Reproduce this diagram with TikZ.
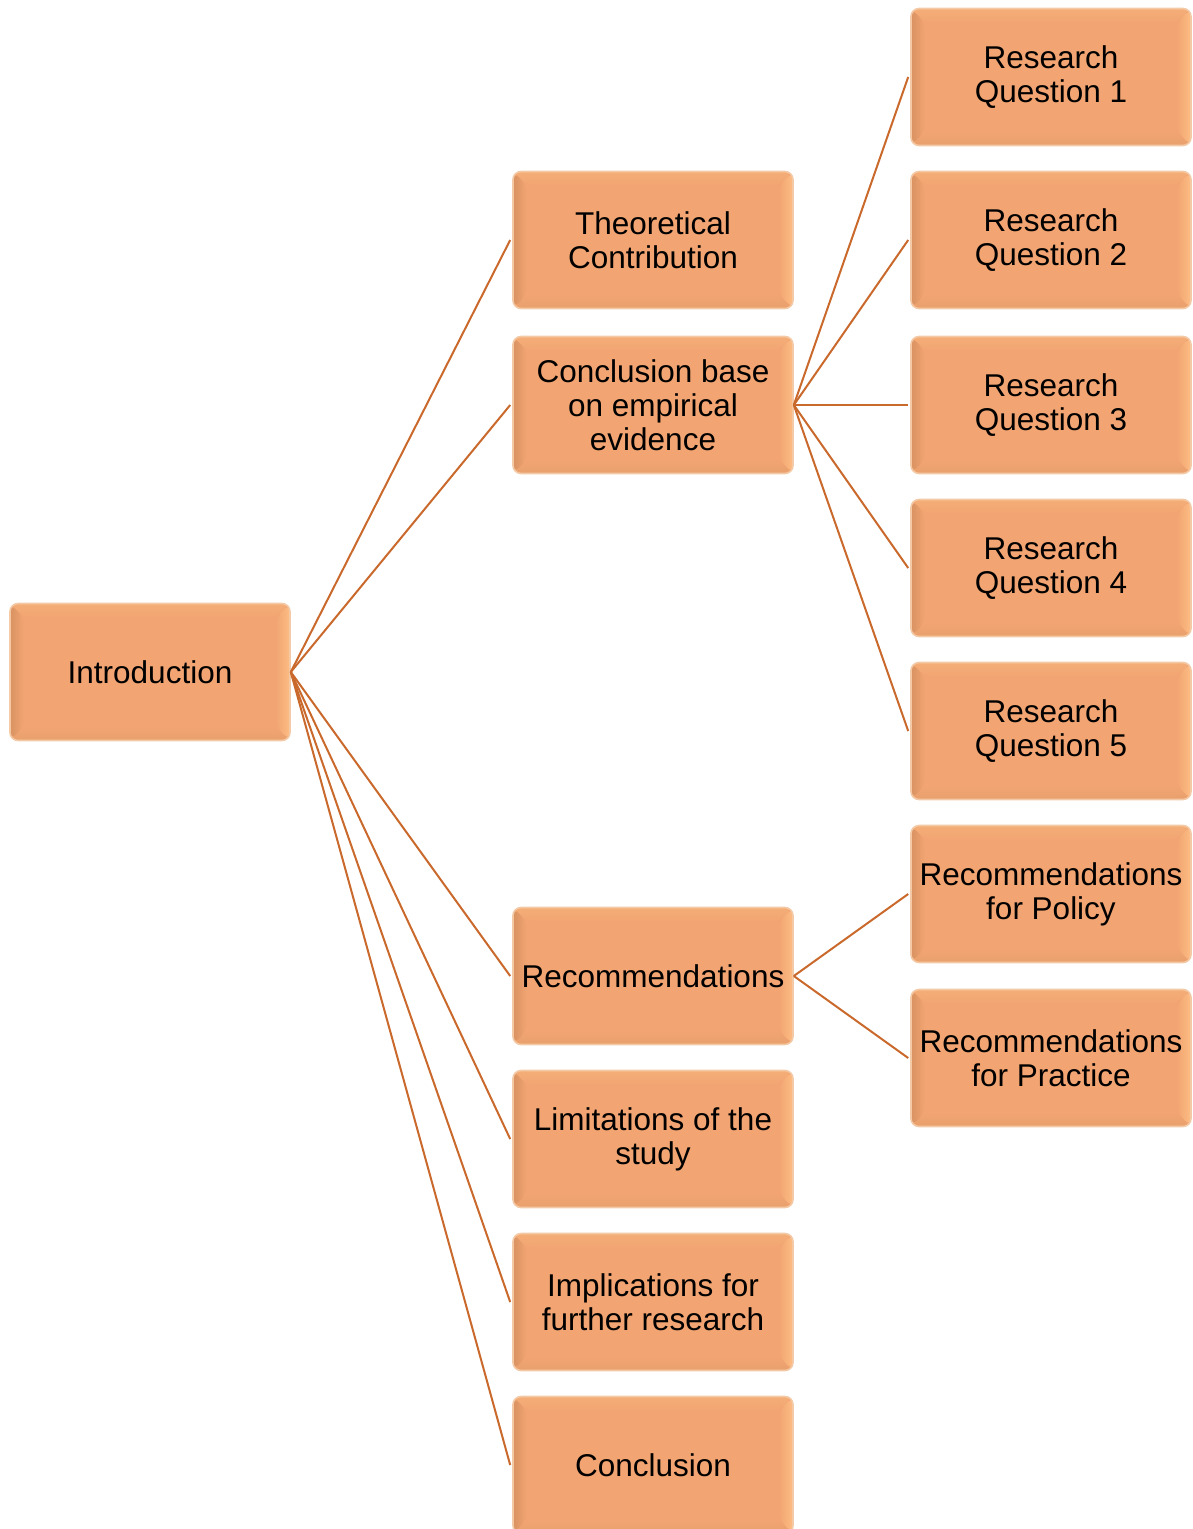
\documentclass[tikz,border=0pt]{standalone}
\usepackage{fontspec}
\setmainfont{Liberation Sans}
\usetikzlibrary{calc}
\definecolor{boxfill}{HTML}{F2A572}
\definecolor{boxtop}{HTML}{F5AE78}
\definecolor{boxleft}{HTML}{D99262}
\definecolor{boxright}{HTML}{FDBD84}
\definecolor{boxbottom}{HTML}{E8A06C}
\definecolor{boxrim}{HTML}{F3C9A6}
\definecolor{linkcol}{HTML}{C9692C}
\tikzset{
  bevelbox/.style={
    rounded corners=8pt, fill=boxfill, draw=boxrim, line width=1.6pt,
    minimum width=280pt, minimum height=137pt, inner sep=0pt,
    align=center, font=\fontsize{31.5}{34}\selectfont, text=black,
    path picture={
      \coordinate (nw) at (path picture bounding box.north west);
      \coordinate (ne) at (path picture bounding box.north east);
      \coordinate (sw) at (path picture bounding box.south west);
      \coordinate (se) at (path picture bounding box.south east);
      \shade[top color=boxtop, bottom color=boxfill] (nw) -- (ne) -- ($(ne)+(-14,14)$) -- ($(nw)+(14,14)$) -- cycle;
      \shade[top color=boxfill, bottom color=boxbottom] (sw) -- (se) -- ($(se)+(-14,-14)$) -- ($(sw)+(14,-14)$) -- cycle;
      \shade[left color=boxleft, right color=boxfill] (nw) -- (sw) -- ($(sw)+(14,-14)$) -- ($(nw)+(14,14)$) -- cycle;
      \shade[left color=boxfill, right color=boxright] (ne) -- (se) -- ($(se)+(-14,-14)$) -- ($(ne)+(-14,14)$) -- cycle;
    }
  },
  link/.style={draw=linkcol, line width=2pt}
}
\begin{document}
\begin{tikzpicture}[x=1pt, y=-1pt]
\useasboundingbox (0,0) rectangle (1192,1529);
\begin{scope}
\clip (0,0) rectangle (1192,1529);
% root
\node[bevelbox] (intro) at (150,672) {Introduction};
% second level
\node[bevelbox] (theo) at (653,240) {Theoretical\\Contribution};
\node[bevelbox] (concl) at (653,405) {Conclusion base\\on empirical\\evidence};
\node[bevelbox] (recs) at (653,976) {Recommendations};
\node[bevelbox] (limits) at (653,1139) {Limitations of the\\study};
\node[bevelbox] (impl) at (653,1302) {Implications for\\further research};
\node[bevelbox] (final) at (653,1465) {Conclusion};
% third level
\node[bevelbox] (rq1) at (1051,77) {Research\\Question 1};
\node[bevelbox] (rq2) at (1051,240) {Research\\Question 2};
\node[bevelbox] (rq3) at (1051,405) {Research\\Question 3};
\node[bevelbox] (rq4) at (1051,568) {Research\\Question 4};
\node[bevelbox] (rq5) at (1051,731) {Research\\Question 5};
\node[bevelbox] (policy) at (1051,894) {Recommendations\\for Policy};
\node[bevelbox] (practice) at (1051,1058) {Recommendations\\for Practice};
% connectors
\foreach \t in {theo,concl,recs,limits,impl,final}
  \draw[link] (intro.east) -- ([xshift=-2pt]\t.west);
\foreach \t in {rq1,rq2,rq3,rq4,rq5}
  \draw[link] (concl.east) -- ([xshift=-2pt]\t.west);
\foreach \t in {policy,practice}
  \draw[link] (recs.east) -- ([xshift=-2pt]\t.west);
\end{scope}
\end{tikzpicture}
\end{document}
